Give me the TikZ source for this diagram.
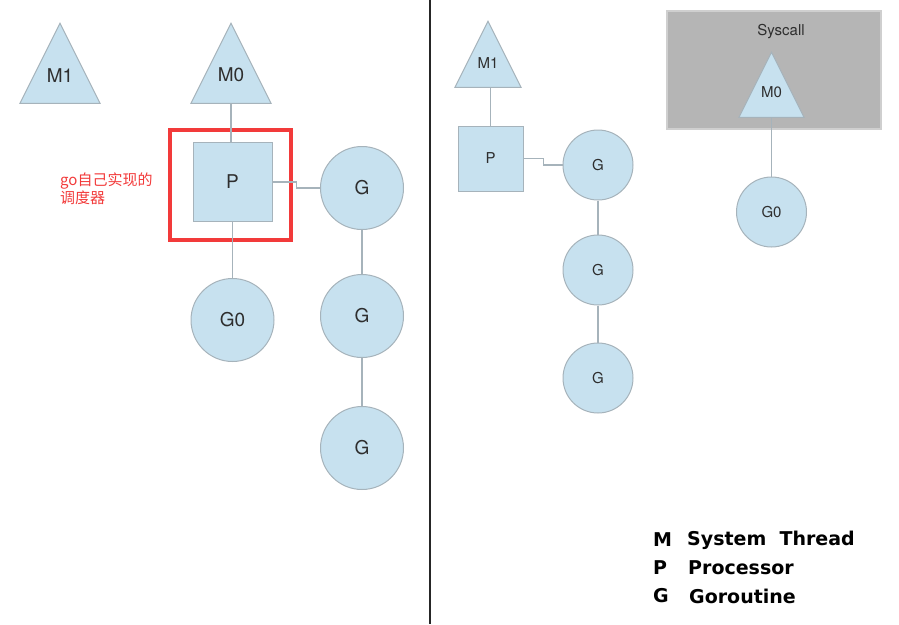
\documentclass[tikz,border=0pt]{standalone}
\usepackage{fontspec}
\setmainfont{TeX Gyre Heros}
\newfontfamily\cjk{Noto Sans CJK SC}
\newfontfamily\legendfont{DejaVu Sans}
\usetikzlibrary{shapes.geometric}
\definecolor{gofill}{HTML}{C7E1EF}
\definecolor{goline}{HTML}{A6B3BB}
\definecolor{gotext}{HTML}{2E2E2E}
\definecolor{gored}{HTML}{F23A3A}
\definecolor{sysfill}{HTML}{B5B5B5}
\definecolor{sysline}{HTML}{CFCFCF}
\tikzset{
  thread/.style={isosceles triangle, shape border rotate=90, isosceles triangle stretches,
    anchor=apex, draw=goline, fill=gofill, inner sep=0pt, line width=1pt},
  proc/.style={rectangle, draw=goline, fill=gofill, text=gotext, inner sep=0pt, line width=1pt},
  gor/.style={circle, draw=goline, fill=gofill, text=gotext, inner sep=0pt, line width=1pt},
  big/.style={font=\fontsize{19}{21}\selectfont, text=gotext},
  small/.style={font=\fontsize{15}{17}\selectfont, text=gotext},
  link/.style={draw=goline, line width=1.3pt},
  legend/.style={anchor=west, font=\legendfont\fontsize{19}{22}\selectfont\bfseries, text=black, inner sep=0pt}
}
\begin{document}
\begin{tikzpicture}[x=1pt, y=-1pt]
\useasboundingbox (0,0) rectangle (899,624);
\draw[line width=1.6pt, black!85] (430,0) -- (430,624);

% left: scheduler
\node (M1L) at (60,22) [thread, minimum width=80pt, minimum height=80pt] {};
\node (M1Ltxt) at (60,76) [big] {M1};
\node (M0L) at (231,22) [thread, minimum width=80pt, minimum height=80pt] {};
\node (M0Ltxt) at (231,75) [big] {M0};
\node (PL) at (232.5,182) [proc, minimum size=79pt, big] {P};
\node (G0L) at (232.5,320) [gor, minimum size=83pt, big] {G0};
\node (G1L) at (362,188) [gor, minimum size=83pt, big] {G};
\node (G2L) at (362,316) [gor, minimum size=83pt, big] {G};
\node (G3L) at (362,448) [gor, minimum size=83pt, big] {G};
\node (box) at (230.5,185) [draw=gored, line width=4pt, minimum width=121pt, minimum height=110pt] {};
\node (note) at (60,189) [anchor=west, text=gored, align=left, inner sep=0pt, font=\cjk\fontsize{15}{18}\selectfont] {go自己实现的\\调度器};

\draw[link] (M0L.south) -- (M0L.south |- PL.north);
\draw[link] (PL.east) -- ++(24,0) |- (G1L.west);
\draw[link] (PL.south) -- (G0L.north);
\draw[link] (G1L.south) -- (G2L.north);
\draw[link] (G2L.south) -- (G3L.north);

% right: syscall
\node (sys) at (774,70) [rectangle, draw=sysline, fill=sysfill, line width=1.5pt, minimum width=214pt, minimum height=118pt] {};
\node (syslbl) at (781,32) [small] {Syscall};
\node (M1R) at (488,20) [thread, minimum width=66pt, minimum height=66pt] {};
\node (M1Rtxt) at (488,63) [small] {M1};
\node (M0R) at (771.5,51) [thread, minimum width=65pt, minimum height=65pt] {};
\node (M0Rtxt) at (771.5,92) [small] {M0};
\node (PR) at (490.5,158.5) [proc, minimum size=65pt, small] {P};
\node (G1R) at (598,165) [gor, minimum size=70pt, small] {G};
\node (G2R) at (598,270) [gor, minimum size=70pt, small] {G};
\node (G3R) at (598,378) [gor, minimum size=70pt, small] {G};
\node (G0R) at (771.5,212) [gor, minimum size=70pt, small] {G0};

\draw[link] (PR.north |- M1R.south) -- (PR.north);
\draw[link] (PR.east) -- ++(20,0) |- (G1R.west);
\draw[link] (G1R.south) -- (G2R.north);
\draw[link] (G2R.south) -- (G3R.north);
\draw[link] (M0R.south) -- (G0R.north);

% legend
\node (legM) at (653,540) [legend] {M};
\node (legMt) at (687,540) [legend] {System\ \ Thread};
\node (legP) at (653,568) [legend] {P};
\node (legPt) at (688,568) [legend] {Processor};
\node (legG) at (653,596) [legend] {G};
\node (legGt) at (689,596) [legend] {Goroutine};
\end{tikzpicture}
\end{document}
